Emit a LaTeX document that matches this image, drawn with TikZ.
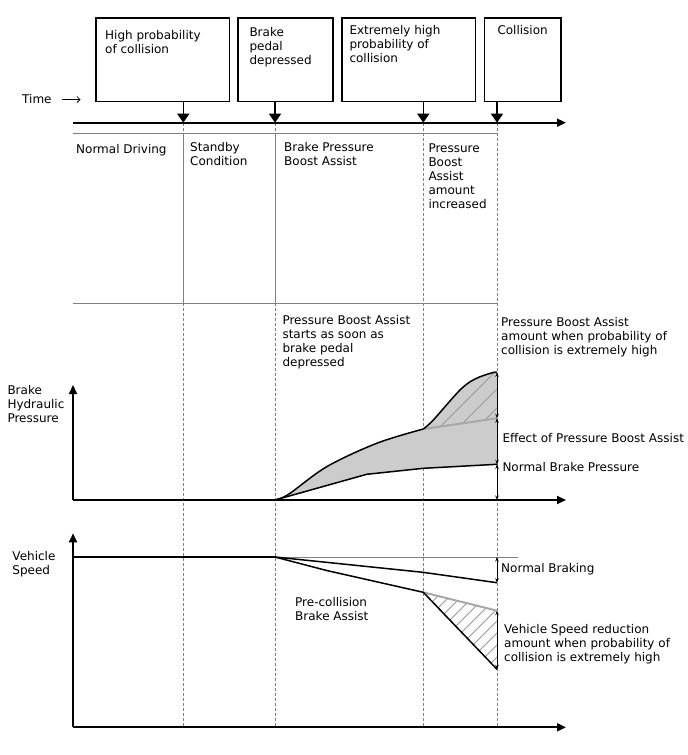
\documentclass[tikz,border=0pt]{standalone}
\usepackage{fontspec}
\setmainfont{DejaVu Sans}
\usetikzlibrary{arrows.meta}
\definecolor{fillgray}{HTML}{CCCCCC}
\definecolor{hatchc}{HTML}{999999}
\definecolor{guide}{HTML}{808080}
\definecolor{paleline}{HTML}{A8A8A8}
\begin{document}
\begin{tikzpicture}[x=1pt,y=-1pt,
  txt/.style={anchor=north west, inner sep=0pt, align=left, font=\fontsize{12}{14}\selectfont},
  evbox/.style={draw, line width=1.3pt, inner sep=0pt, minimum height=83.7pt},
  boxarr/.style={line width=1.6pt, -{Triangle[length=9pt,width=12pt]}},
  axis/.style={line width=1.8pt, -{Triangle[length=9pt,width=8pt]}},
  solidguide/.style={guide, line width=0.8pt},
  dashguide/.style={guide, line width=0.7pt, dash pattern=on 3pt off 2pt},
  dim/.style={line width=0.8pt, {Stealth[length=4.5pt,width=3.5pt]}-{Stealth[length=4.5pt,width=3.5pt]}},
  curve/.style={line width=1.5pt, line join=round},
  paleln/.style={paleline, line width=2pt},
  hatch/.style={hatchc, line width=0.8pt}
]
\useasboundingbox (0,0) rectangle (688,755);

% event boxes
\node[evbox, minimum width=133.7pt] (b1) at (162.8,59.8) {};
\node[evbox, minimum width=95pt] (b2) at (285.5,59.8) {};
\node[evbox, minimum width=133.7pt] (b3) at (408.8,59.8) {};
\node[evbox, minimum width=76.7pt] (b4) at (522.7,59.8) {};
\node[txt] (b1t) at (105,30.5) {High probability\\of collision};
\node[txt] (b2t) at (249.3,27.5) {Brake\\pedal\\depressed};
\node[txt] (b3t) at (349.3,25.5) {Extremely high\\probability of\\collision};
\node[txt] (b4t) at (497.3,25.5) {Collision};

% time axis
\coordinate (t0) at (73,122.7);
\coordinate (tend) at (566,122.7);
\coordinate (t1) at (183.3,122.7);
\coordinate (t2) at (275,122.7);
\coordinate (t3) at (423.3,122.7);
\coordinate (t4) at (497,122.7);
\node[txt] (time) at (22,94) {Time};
\coordinate (tarr) at (80.5,99.5);
\draw[line width=0.8pt, -{Straight Barb[length=3pt,width=6pt]}] (time.east |- tarr) ++(10,0) -- (tarr);

% guide lines
\draw[guide, line width=0.9pt] (73,133.3) -- (497,133.3);
\draw[guide, line width=0.9pt] (73,303.3) -- (497,303.3);
\draw[dashguide] (t1) -- (183.3,133.3);
\draw[solidguide] (183.3,133.3) -- (183.3,303.3);
\draw[dashguide] (183.3,303.3) -- (183.3,727.3);
\draw[dashguide] (t2) -- (275,133.3);
\draw[solidguide] (275,133.3) -- (275,303.3);
\draw[dashguide] (275,303.3) -- (275,727.3);
\draw[dashguide] (t3) -- (423.3,727.3);
\draw[dashguide] (t4) -- (497,727.3);

\draw[axis] (t0) -- (tend);
\draw[boxarr] (b1.south -| t1) -- (t1);
\draw[boxarr] (b2.south -| t2) -- (t2);
\draw[boxarr] (b3.south -| t3) -- (t3);
\draw[boxarr] (b4.south -| t4) -- (t4);

% phase labels
\node[txt] (p1) at (76,144) {Normal Driving};
\node[txt] (p2) at (190,142) {Standby\\Condition};
\node[txt] (p3) at (284,142) {Brake Pressure\\Boost Assist};
\node[txt] (p4) at (428.3,144) {Pressure\\Boost\\Assist\\amount\\increased};

% ---------- brake hydraulic pressure graph ----------
\node[txt] (bhp) at (7.3,385) {Brake\\Hydraulic\\Pressure};
\coordinate (po) at (73,500);
\fill[fillgray] plot[smooth, tension=0.55] coordinates {(275,500) (289,494) (326.7,466.7) (376.7,443.3) (423.3,429)}
   -- (497,418.3) -- (497,464.3) -- (423.3,468.3) -- (366.7,474.3) -- cycle;
\begin{scope}
\clip plot[smooth, tension=0.55] coordinates {(423.3,429) (433.3,420) (460,390) (475,379) (492,372.8) (497,372.3)} -- (497,418.3) -- cycle;
\fill[fillgray] (420,360) rectangle (500,430);
\foreach \c in {848,867,886,905} {\draw[hatch] (\c-500,500) -- (\c-300,300);}
\end{scope}
\draw[paleln] (423.3,429) -- (497,418.3);
\draw[curve] plot[smooth, tension=0.55] coordinates {(275,500) (289,494) (326.7,466.7) (376.7,443.3) (423.3,429)};
\draw[curve] plot[smooth, tension=0.55] coordinates {(423.3,429) (433.3,420) (460,390) (475,379) (492,372.8) (497,372.3)};
\draw[curve] (275,500) -- (366.7,474.3) -- (423.3,468.3) -- (497,464.3);
\draw[axis] (po) -- (73,385);
\draw[axis] (po) -- (566,500);
\coordinate (pa) at (497,372.3);
\coordinate (pb) at (497,418.3);
\coordinate (pc) at (497,464.3);
\coordinate (pd) at (497,500);
\draw[dim] (pa) -- (pb);
\draw[dim] (pb) -- (pc);
\draw[dim] (pc) -- (pd);
\node[txt] (pbs) at (282.3,315) {Pressure Boost Assist\\starts as soon as\\brake pedal\\depressed};
\node[txt] (pbh) at (501,316.7) {Pressure Boost Assist\\amount when probability of\\collision is extremely high};
\node[txt] (eff) at (502.3,433) {Effect of Pressure Boost Assist};
\node[txt] (nbp) at (502.3,462.5) {Normal Brake Pressure};

% ---------- vehicle speed graph ----------
\node[txt] (vs) at (12.3,551.5) {Vehicle\\Speed};
\coordinate (so) at (73,727.3);
\draw[guide, line width=0.8pt] (73,557) -- (518,557);
\draw[line width=1.6pt] (73,557) -- (276,557);
\begin{scope}
\clip (423.3,592.3) -- (497,610.7) -- (497,669.3) -- cycle;
\foreach \c in {1010,1022,...,1190} {\draw[hatch] (\c-700,700) -- (\c-500,500);}
\end{scope}
\draw[curve] (275,557) -- (423,572.3) -- (497,582.7);
\draw[paleln] (423.3,592.3) -- (497,610.7);
\draw[curve] (275,557) -- (326.7,570.5) -- (423.3,592.3) -- (497,669.3);
\draw[axis] (so) -- (73,533.3);
\draw[axis] (so) -- (566,727.3);
\coordinate (sa) at (497,557);
\coordinate (sb) at (497,582.7);
\coordinate (sc) at (497,610.7);
\coordinate (sd) at (497,669.3);
\draw[dim] (sa) -- (sb);
\draw[dim] (sc) -- (sd);
\node[txt] (nb) at (501,563.5) {Normal Braking};
\node[txt] (pcb) at (295,597.3) {Pre-collision\\Brake Assist};
\node[txt] (vsr) at (504,624.5) {Vehicle Speed reduction\\amount when probability of\\collision is extremely high};
\end{tikzpicture}
\end{document}
